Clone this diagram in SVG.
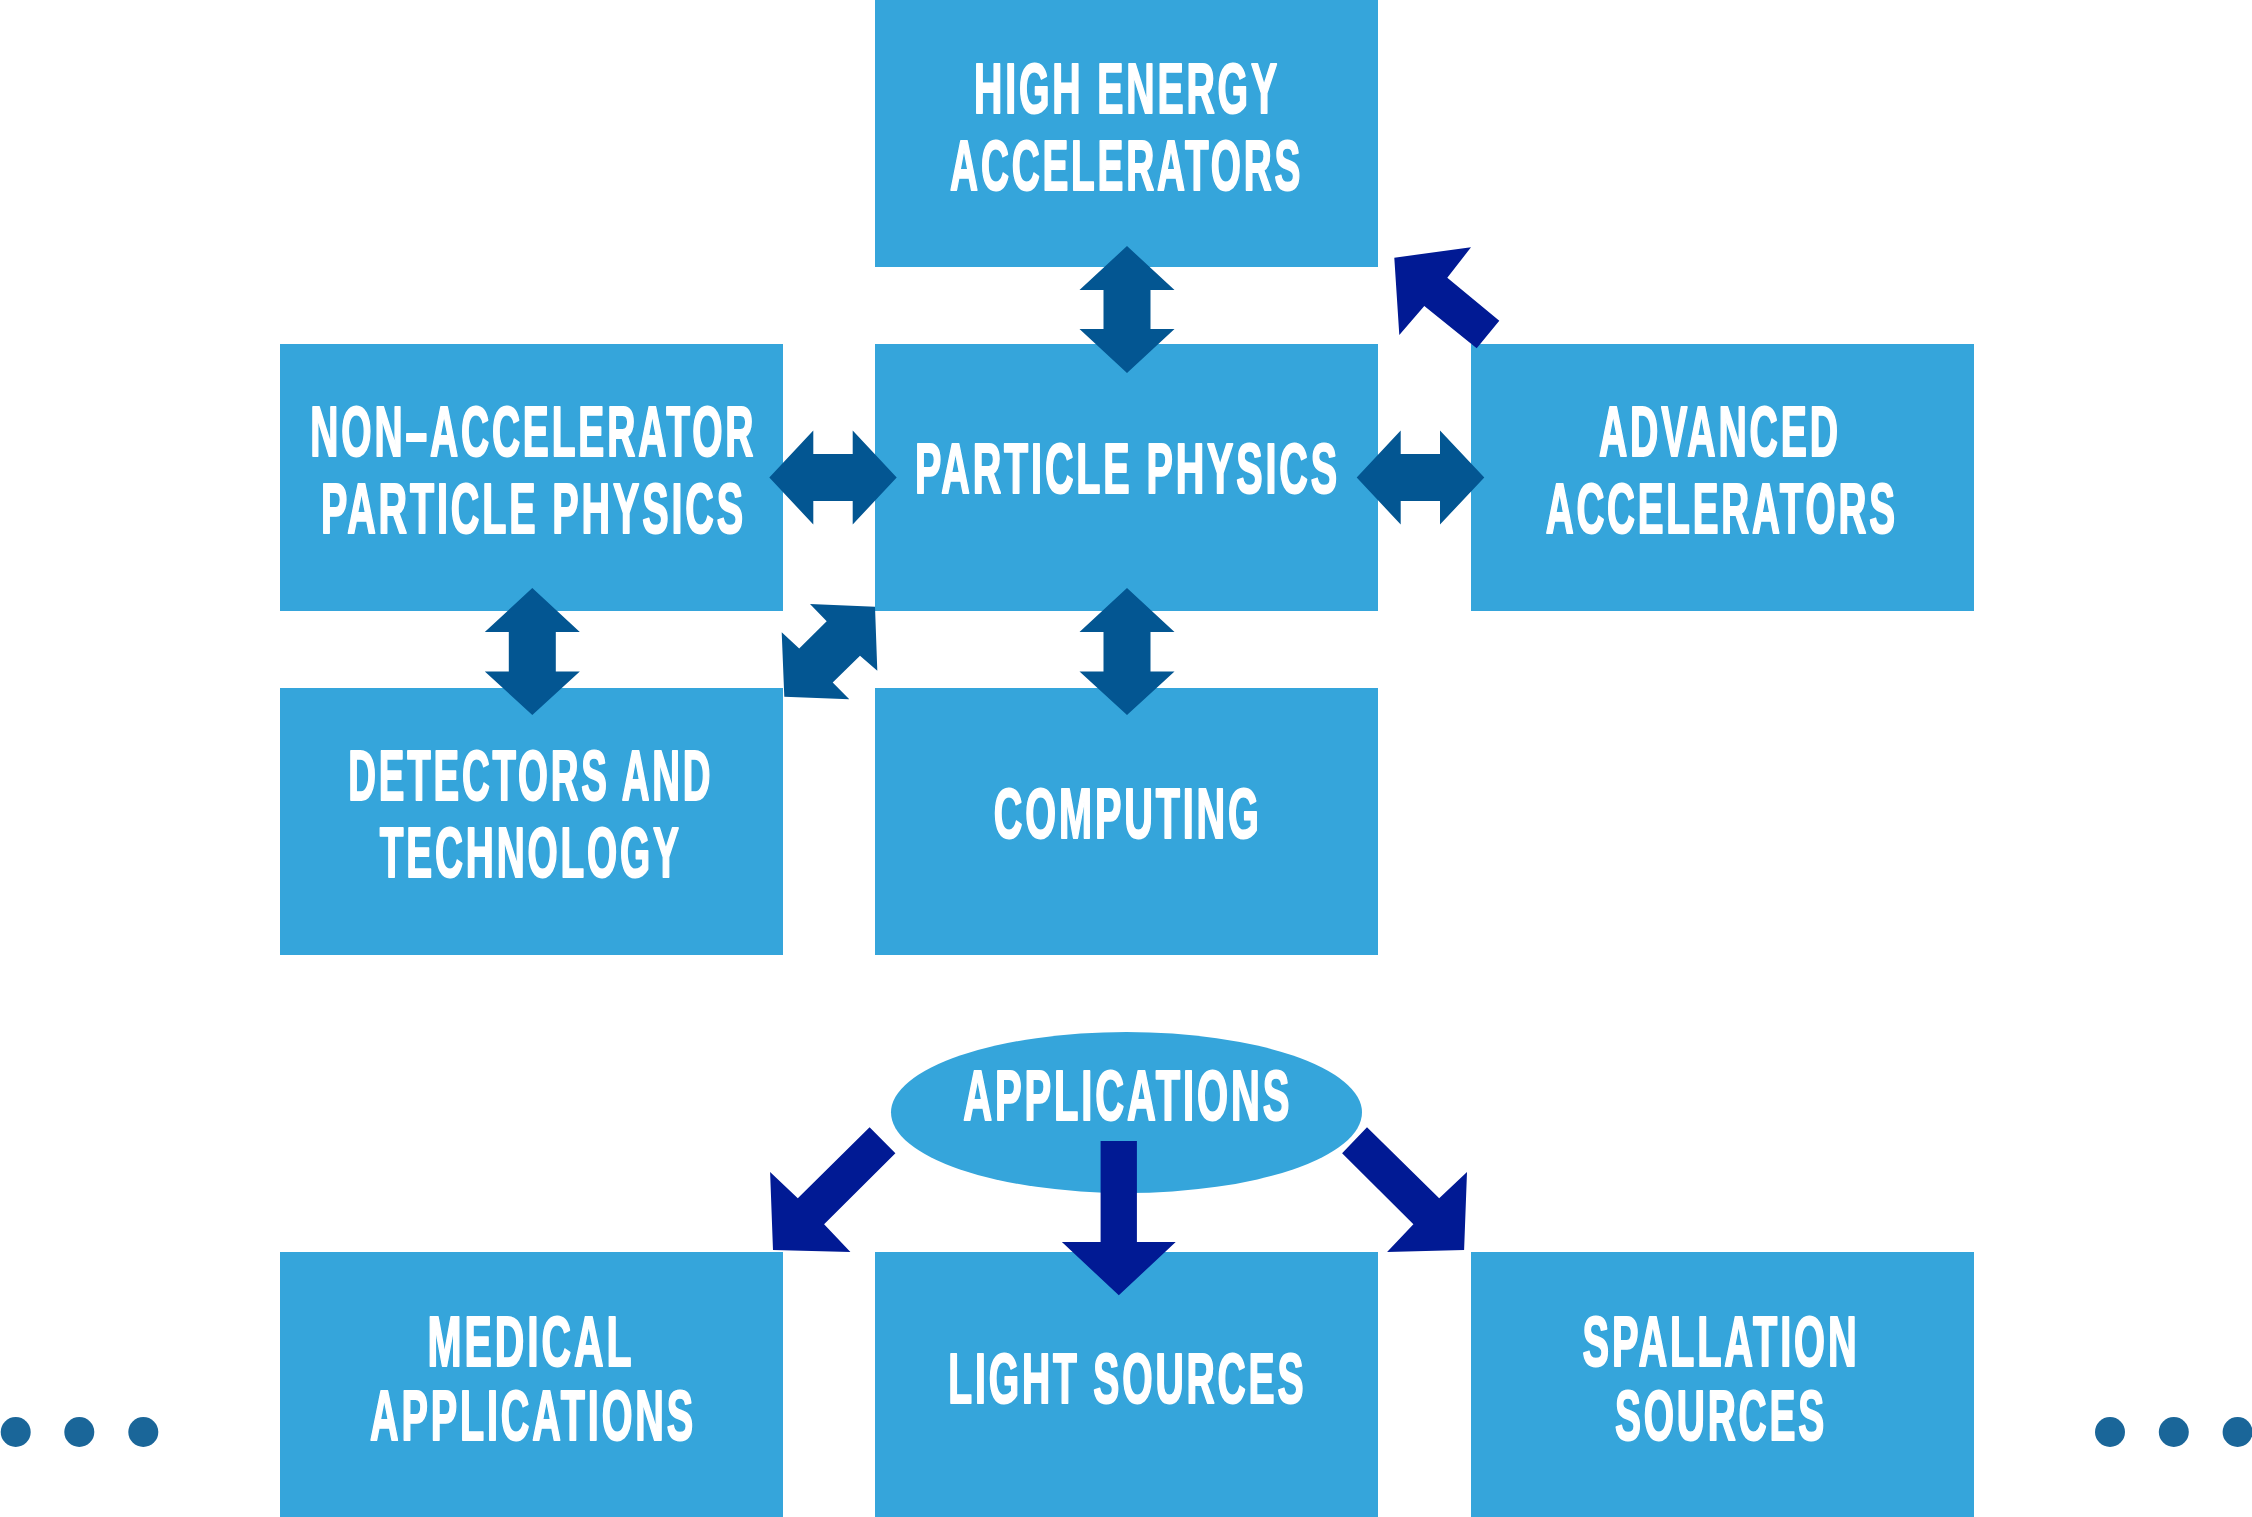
<svg xmlns="http://www.w3.org/2000/svg" width="2252" height="1517" viewBox="0 0 2252 1517">
  <defs>
    <style>
      .box { fill: #35a5db; }
      /* labels are set in a bold sans, narrowed horizontally by each text's transform */
      .lbl { font-family: "Liberation Sans", Arial, sans-serif; font-weight: bold; font-size: 69.5px; letter-spacing: 5px; fill: #ffffff; stroke: #ffffff; stroke-width: 2; stroke-linejoin: round; text-anchor: middle; }
      .dbl { fill: #035692; }
      .one { fill: #011a94; }
      .dot { fill: #1a6699; }
    </style>
  </defs>
  <rect width="2252" height="1517" fill="#ffffff"/>

  <!-- nodes -->
  <g id="high-energy-accelerators">
    <rect class="box" x="875" y="0" width="503" height="267"/>
    <text class="lbl" transform="translate(1127 112.5) scale(0.56 1)" textLength="546.4" lengthAdjust="spacingAndGlyphs">HIGH ENERGY</text>
    <text class="lbl" transform="translate(1126.6 190) scale(0.56 1)" textLength="630.4" lengthAdjust="spacingAndGlyphs">ACCELERATORS</text>
  </g>

  <g id="non-accelerator-particle-physics">
    <rect class="box" x="280" y="344" width="503" height="267"/>
    <text class="lbl" transform="translate(533.3 456) scale(0.56 1)" textLength="796.4" lengthAdjust="spacingAndGlyphs">NON–ACCELERATOR</text>
    <text class="lbl" transform="translate(533.4 533.3) scale(0.56 1)" textLength="758.9" lengthAdjust="spacingAndGlyphs">PARTICLE PHYSICS</text>
  </g>

  <g id="particle-physics">
    <rect class="box" x="875" y="344" width="503" height="267"/>
    <text class="lbl" transform="translate(1127.5 493.3) scale(0.56 1)" textLength="758.9" lengthAdjust="spacingAndGlyphs">PARTICLE PHYSICS</text>
  </g>

  <g id="advanced-accelerators">
    <rect class="box" x="1471" y="344" width="503" height="267"/>
    <text class="lbl" transform="translate(1719.9 456) scale(0.56 1)" textLength="432.1" lengthAdjust="spacingAndGlyphs">ADVANCED</text>
    <text class="lbl" transform="translate(1721.7 533.3) scale(0.56 1)" textLength="628.6" lengthAdjust="spacingAndGlyphs">ACCELERATORS</text>
  </g>

  <g id="detectors-and-technology">
    <rect class="box" x="280" y="688" width="503" height="267"/>
    <text class="lbl" transform="translate(530.8 800) scale(0.56 1)" textLength="651.8" lengthAdjust="spacingAndGlyphs">DETECTORS AND</text>
    <text class="lbl" transform="translate(530.8 877.3) scale(0.56 1)" textLength="539.3" lengthAdjust="spacingAndGlyphs">TECHNOLOGY</text>
  </g>

  <g id="computing">
    <rect class="box" x="875" y="688" width="503" height="267"/>
    <text class="lbl" transform="translate(1127.8 837.7) scale(0.56 1)" textLength="478.6" lengthAdjust="spacingAndGlyphs">COMPUTING</text>
  </g>

  <g id="applications">
    <ellipse class="box" cx="1126.5" cy="1112.5" rx="235.5" ry="80.5"/>
    <text class="lbl" transform="translate(1127.8 1120) scale(0.56 1)" textLength="587.5" lengthAdjust="spacingAndGlyphs">APPLICATIONS</text>
  </g>

  <g id="medical-applications">
    <rect class="box" x="280" y="1252" width="503" height="267"/>
    <text class="lbl" transform="translate(531 1366) scale(0.56 1)" textLength="369.6" lengthAdjust="spacingAndGlyphs">MEDICAL</text>
    <text class="lbl" transform="translate(533 1440) scale(0.56 1)" textLength="582.1" lengthAdjust="spacingAndGlyphs">APPLICATIONS</text>
  </g>

  <g id="light-sources">
    <rect class="box" x="875" y="1252" width="503" height="267"/>
    <text class="lbl" transform="translate(1127.3 1402.7) scale(0.56 1)" textLength="639.3" lengthAdjust="spacingAndGlyphs">LIGHT SOURCES</text>
  </g>

  <g id="spallation-sources">
    <rect class="box" x="1471" y="1252" width="503" height="267"/>
    <text class="lbl" transform="translate(1721 1366) scale(0.56 1)" textLength="494.6" lengthAdjust="spacingAndGlyphs">SPALLATION</text>
    <text class="lbl" transform="translate(1721 1440) scale(0.56 1)" textLength="378.6" lengthAdjust="spacingAndGlyphs">SOURCES</text>
  </g>

  <!-- ellipsis marks at both sides of the bottom row -->
  <g id="ellipsis-marks">
    <circle class="dot" cx="15.7" cy="1432" r="15"/>
    <circle class="dot" cx="79.3" cy="1432" r="15"/>
    <circle class="dot" cx="143.3" cy="1432" r="15"/>
    <circle class="dot" cx="2110" cy="1432" r="15"/>
    <circle class="dot" cx="2173.8" cy="1432" r="15"/>
    <circle class="dot" cx="2237.6" cy="1432" r="15"/>
  </g>

  <!-- connectors -->
  <g id="connectors">
    <!-- two-way links -->
    <polygon class="dbl" points="1127,246 1174.5,290 1150.5,290 1150.5,329 1174.5,329 1127,373 1079.5,329 1103.5,329 1103.5,290 1079.5,290"/>
    <polygon class="dbl" points="1127,588 1174.5,632 1150.5,632 1150.5,671.5 1174.5,671.5 1127,715 1079.5,671.5 1103.5,671.5 1103.5,632 1079.5,632"/>
    <polygon class="dbl" points="532.3,588 579.8,632 555.8,632 555.8,671.5 579.8,671.5 532.3,715 484.8,671.5 508.8,671.5 508.8,632 484.8,632"/>
    <polygon class="dbl" points="769.3,477.5 813.3,430.5 813.3,454 852.7,454 852.7,430.5 896.7,477.5 852.7,524.5 852.7,501 813.3,501 813.3,524.5"/>
    <polygon class="dbl" points="1356.7,477.5 1400.7,430.5 1400.7,454 1440,454 1440,430.5 1484.3,477.5 1440,524.5 1440,501 1400.7,501 1400.7,524.5"/>
    <polygon class="dbl" points="810,604 875,606.7 877.3,670.7 860,655.7 832.7,682.5 849.3,699.3 784.3,696.7 781.7,632.3 799.2,648.5 826.7,621.2"/>
    <!-- one-way links -->
    <polygon class="one" points="1394.3,257.7 1471,247.3 1447.3,277.7 1499.3,320.7 1476.7,348.3 1424.3,306 1399.3,335"/>
    <polygon class="one" points="869.6,1127.3 895.4,1153.3 824.1,1224.3 850.4,1252 773,1250 770.1,1172 797.8,1198.3"/>
    <polygon class="one" points="1367,1127.3 1342.1,1153.3 1413.4,1224.3 1387.1,1252 1464.1,1250 1467,1172 1439.2,1198.3"/>
    <polygon class="one" points="1100.6,1141 1136.9,1141 1136.9,1242 1175.7,1242 1118.8,1295.3 1061.9,1242 1100.6,1242"/>
  </g>
</svg>
